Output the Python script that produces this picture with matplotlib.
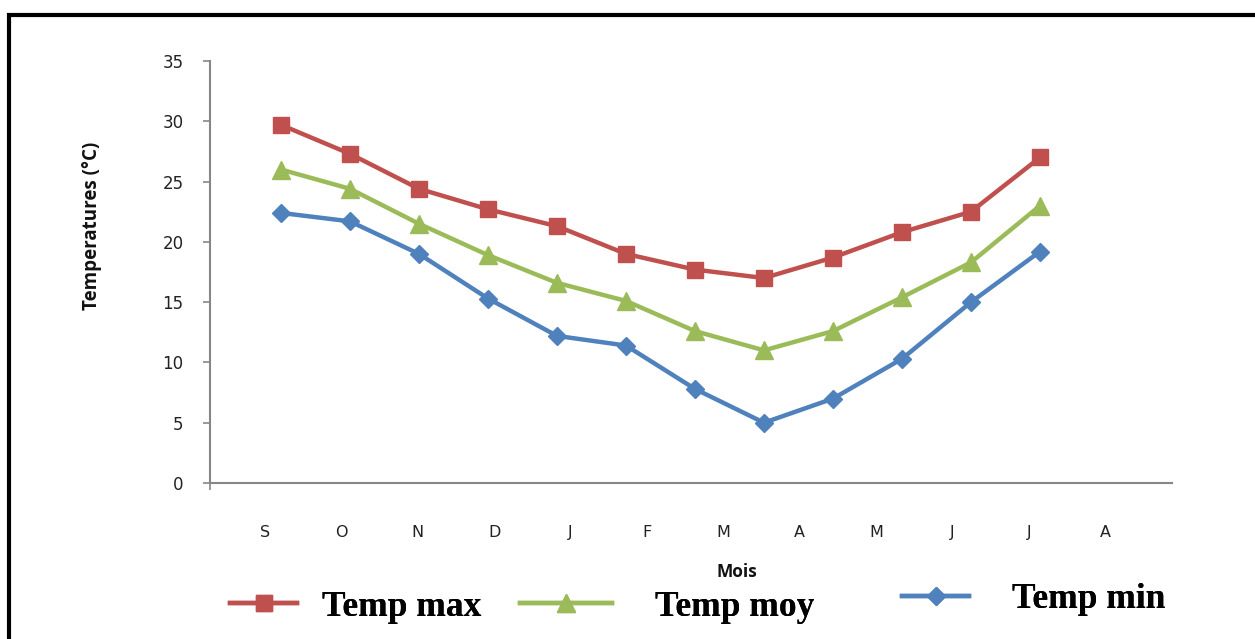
import numpy as np
import matplotlib.pyplot as plt
from matplotlib.patches import Rectangle

# monthly temperatures (deg C), September -> August
mois = ["S", "O", "N", "D", "J", "F", "M", "A", "M", "J", "J", "A"]
temp_max = [29.7, 27.3, 24.4, 22.7, 21.3, 19.0, 17.7, 17.0, 18.7, 20.8, 22.5, 27.0]
temp_moy = [26.0, 24.4, 21.5, 18.9, 16.6, 15.1, 12.6, 11.0, 12.6, 15.4, 18.3, 23.0]
temp_min = [22.4, 21.7, 19.0, 15.3, 12.2, 11.4, 7.8, 5.0, 7.0, 10.3, 15.0, 19.2]

red = "#C0504D"
green = "#9BBB59"
blue = "#4F81BD"
grey = "#868686"

fig = plt.figure(figsize=(12.55, 6.39), dpi=100)
ax = fig.add_axes([210 / 1255, 1 - 483 / 639, 962 / 1255, 422 / 639])

x = np.arange(len(temp_max))
l_max, = ax.plot(x, temp_max, color=red, lw=3.2, marker="s", ms=12, label="Temp max")
l_moy, = ax.plot(x, temp_moy, color=green, lw=3.2, marker="^", ms=13, label="Temp moy")
l_min, = ax.plot(x, temp_min, color=blue, lw=3.2, marker="D", ms=9, label="Temp min")

ax.set_xlim(-1.029, 12.913)
ax.set_ylim(0, 35)
ax.set_yticks(np.arange(0, 36, 5))

# month labels sit on their own spacing, a bit offset from the points
step = 76.4 / 69
ax.set_xticks(-16 / 69 + step * np.arange(len(mois)))
ax.set_xticklabels(mois)
ax.tick_params(axis="x", length=0, pad=30, labelsize=11.5, labelcolor="#222222")
ax.tick_params(axis="y", length=5, width=1.2, color=grey, pad=14, labelsize=12, labelcolor="#222222")
ax.set_xticks([-1.029], minor=True)
ax.tick_params(axis="x", which="minor", length=5, width=1.2, color=grey)

for s in ["top", "right"]:
    ax.spines[s].set_visible(False)
for s in ["left", "bottom"]:
    ax.spines[s].set_color(grey)
    ax.spines[s].set_linewidth(1.5)

fig.text(92 / 1255, 1 - 226 / 639, "Temperatures (°C)", rotation=90, ha="center", va="center",
         fontsize=13.5, fontweight="bold", family="Open Sans", color="#111111")
fig.text(737 / 1255, 1 - 572 / 639, "Mois", ha="center", va="center",
         fontsize=12.5, fontweight="bold", family="Open Sans", color="#111111")

# legend entries are placed one by one
leg_font = {"family": "Liberation Serif", "weight": "bold", "size": 25.5}
for h, xa, ya, hl, pad in [(l_max, 230, 607, 1.9, 0.7),
                           (l_moy, 520, 607, 2.6, 1.2),
                           (l_min, 902, 600, 1.9, 1.2)]:
    lg = fig.legend(handles=[h], loc="center left", bbox_to_anchor=(xa / 1255, 1 - ya / 639),
                    frameon=False, borderpad=0, borderaxespad=0, handlelength=hl,
                    handletextpad=pad, prop=leg_font)
    fig.add_artist(lg)

# outer frame (only top and left edges fall inside the image)
fig.add_artist(Rectangle((9 / 1255, -0.2), 2, 1.2 - 14.5 / 639, transform=fig.transFigure,
                         fill=False, edgecolor="black", linewidth=3))

fig.savefig("out.png", dpi=100)
